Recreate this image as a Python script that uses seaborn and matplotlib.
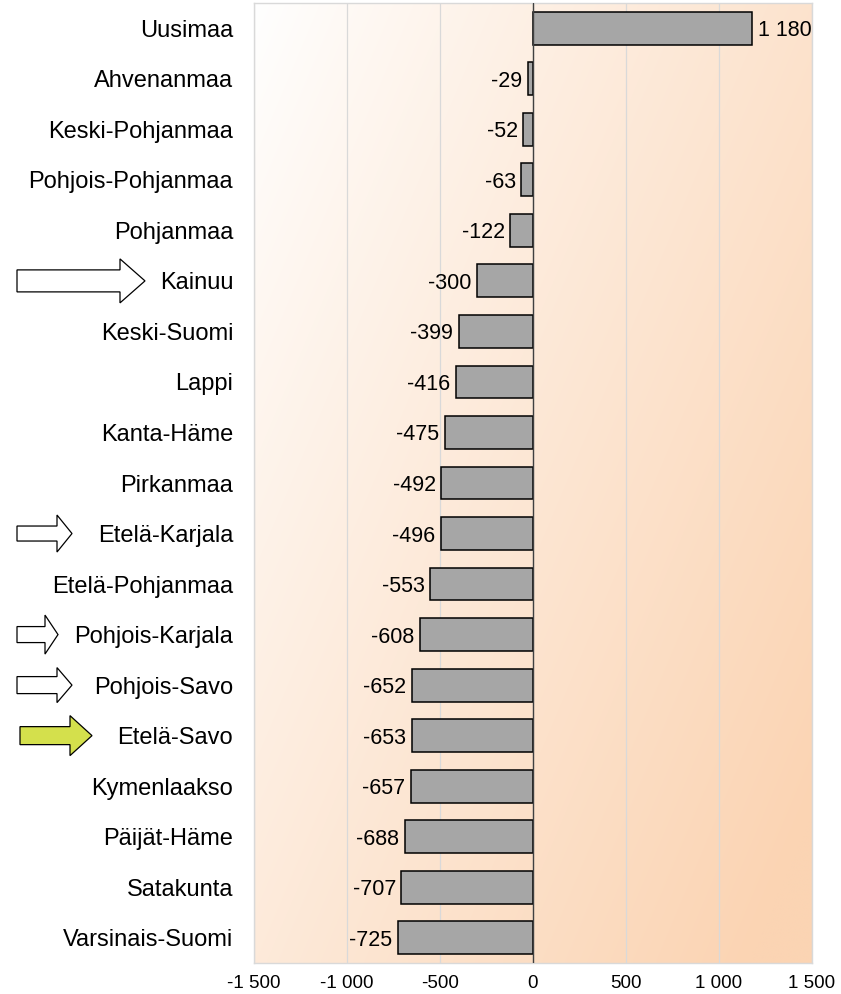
import matplotlib.pyplot as plt
import matplotlib.patches as mpatches
import matplotlib.transforms as mtransforms
import numpy as np
import pandas as pd
import seaborn as sns

regions = ["Uusimaa", "Ahvenanmaa", "Keski-Pohjanmaa", "Pohjois-Pohjanmaa",
           "Pohjanmaa", "Kainuu", "Keski-Suomi", "Lappi", "Kanta-Häme",
           "Pirkanmaa", "Etelä-Karjala", "Etelä-Pohjanmaa", "Pohjois-Karjala",
           "Pohjois-Savo", "Etelä-Savo", "Kymenlaakso", "Päijät-Häme",
           "Satakunta", "Varsinais-Suomi"]
values = [1180, -29, -52, -63, -122, -300, -399, -416, -475, -492, -496,
          -553, -608, -652, -653, -657, -688, -707, -725]
x_ticks = [-1500, -1000, -500, 0, 500, 1000, 1500]

df = pd.DataFrame({"region": regions, "value": values})


def fmt(v):
    return f"{v:,}".replace(",", " ")


sns.set_style("white")
plt.rcParams["font.family"] = ["Liberation Sans", "DejaVu Sans"]
plt.rcParams["text.color"] = "black"
plt.rcParams["xtick.color"] = "black"
plt.rcParams["ytick.color"] = "black"

fig = plt.figure(figsize=(8.41, 9.94), dpi=100)
ax = fig.add_axes([254 / 841, 31 / 994, 558 / 841, 960 / 994])

# diagonal background gradient, white -> peach
u = np.linspace(0, 1, 200)
v = np.linspace(0, 1, 200)
U, V = np.meshgrid(u, v)
t = np.clip(0.62 * U + 0.45 * V, 0, 1) ** 0.9
c0 = np.array([1.0, 1.0, 1.0])
c1 = np.array([251, 212, 179]) / 255
img = c0[None, None, :] * (1 - t[..., None]) + c1[None, None, :] * t[..., None]
ax.imshow(img, extent=[-1500, 1500, 18.5, -0.5], aspect="auto", zorder=0,
          interpolation="bilinear")

sns.barplot(data=df, x="value", y="region", orient="h", color="#a6a6a6",
            saturation=1, edgecolor="black", linewidth=1.1, width=0.65,
            ax=ax, zorder=3)

ax.set_xlim(-1500, 1500)
ax.set_ylim(18.5, -0.5)
ax.set_xticks(x_ticks)
ax.set_xticklabels([fmt(x) for x in x_ticks], fontsize=13.5)
ax.tick_params(axis="y", labelsize=17, length=0, pad=15, labelcolor="black")
ax.tick_params(axis="x", length=0, pad=9, labelcolor="black")
ax.set_xlabel("")
ax.set_ylabel("")
ax.grid(axis="x", color="#d9d9d9", linewidth=0.9, zorder=1)
ax.set_axisbelow(True)
ax.axvline(0, color="#404040", linewidth=1, zorder=4)
for s in ax.spines.values():
    s.set_color("#d9d9d9")
    s.set_linewidth(1)

labels = ax.bar_label(ax.containers[0], labels=[fmt(x) for x in values],
                      padding=4, fontsize=15.5, color="black", zorder=5)
for txt in labels:
    txt.set_va("center_baseline")

# block arrows pointing at some regions (pixel coords: x0, head start, tip,
# shaft half-height, head half-height)
arrows = {
    "Kainuu": (17, 120, 145, 11, 22, "white"),
    "Etelä-Karjala": (17, 57, 72, 7.5, 18.5, "white"),
    "Pohjois-Karjala": (17, 45, 58, 8, 19.5, "white"),
    "Pohjois-Savo": (17, 57, 72, 8.5, 17.5, "white"),
    "Etelä-Savo": (20, 70, 92, 9, 20, "#d4e04c"),
}
fig.canvas.draw()
for name, (x0, xh, xt, hs, hh, col) in arrows.items():
    i = regions.index(name)
    yc = ax.transData.transform((0, i))[1]
    pts = [(x0, yc - hs), (xh, yc - hs), (xh, yc - hh), (xt, yc),
           (xh, yc + hh), (xh, yc + hs), (x0, yc + hs)]
    poly = mpatches.Polygon(pts, closed=True, facecolor=col, edgecolor="black",
                            linewidth=0.9, transform=mtransforms.IdentityTransform(),
                            clip_on=False)
    fig.add_artist(poly)

fig.savefig("out.png", dpi=100)
